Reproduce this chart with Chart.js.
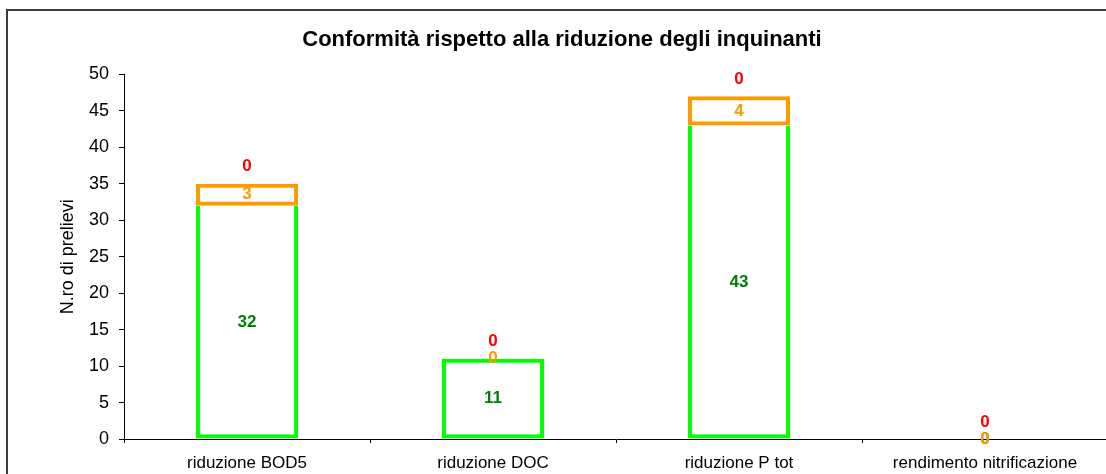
<!DOCTYPE html>
<html>
<head>
<meta charset="utf-8">
<script src="https://cdn.jsdelivr.net/npm/chart.js@4.4.0/dist/chart.umd.min.js"></script>
<style>
  html, body { margin: 0; padding: 0; background: #fff; overflow: hidden; }
  #wrap { width: 1106px; height: 474px; overflow: hidden; }
  canvas { display: block; }
</style>
</head>
<body>
<div id="wrap"><canvas id="chart" width="1124" height="474"></canvas></div>
<script>
// Data
const categories = ['riduzione BOD5', 'riduzione DOC', 'riduzione P tot', 'rendimento nitrificazione'];
const conformi = [32, 11, 43, 0];     // green
const parziali = [3, 0, 4, 0];        // orange
const nonConformi = [0, 0, 0, 0];     // red
const yMax = 50;
const yStep = 5;

Chart.defaults.font.family = '"Liberation Sans", Arial, sans-serif';
Chart.defaults.color = '#000';

// outer frame of the chart (only top/left edges are visible in the picture)
const frame = {
    id: 'frame',
    beforeDraw(chart) {
        const ctx = chart.ctx;
        ctx.save();
        ctx.fillStyle = '#fff';
        ctx.fillRect(0, 0, chart.width, chart.height);
        ctx.strokeStyle = '#3c3c3c';
        ctx.lineWidth = 2;
        ctx.beginPath();
        ctx.moveTo(7, chart.height);
        ctx.lineTo(7, 10);
        ctx.lineTo(chart.width, 10);
        ctx.stroke();
        ctx.restore();
    }
};

// value labels on every segment
const valueLabels = {
    id: 'valueLabels',
    afterDatasetsDraw(chart) {
        const ctx = chart.ctx;
        ctx.save();
        ctx.font = 'bold 17px "Liberation Sans", Arial, sans-serif';
        ctx.textAlign = 'center';
        ctx.textBaseline = 'middle';
        chart.data.datasets.forEach((ds, i) => {
            const meta = chart.getDatasetMeta(i);
            meta.data.forEach((bar, j) => {
                let y = (bar.y + bar.base) / 2;
                if (ds.labelAbove) y = bar.y - 17;
                ctx.fillStyle = ds.labelColor;
                ctx.fillText(String(ds.data[j]), bar.x, y);
            });
        });
        ctx.restore();
    }
};

const ctx = document.getElementById('chart').getContext('2d');
new Chart(ctx, {
    type: 'bar',
    data: {
        labels: categories,
        datasets: [
            {
                label: 'conformi',
                data: conformi,
                backgroundColor: 'rgba(255,255,255,0)',
                borderColor: '#00ff00',
                borderWidth: 4,
                borderSkipped: c => parziali[c.dataIndex] > 0 ? 'end' : false,
                labelColor: '#008000'
            },
            {
                label: 'parziali',
                data: parziali,
                backgroundColor: 'rgba(255,255,255,0)',
                borderColor: '#ff9900',
                borderWidth: 4,
                borderSkipped: false,
                labelColor: '#ff9900'
            },
            {
                label: 'non conformi',
                data: nonConformi,
                backgroundColor: 'rgba(255,255,255,0)',
                borderColor: '#ff0000',
                borderWidth: 0,
                labelColor: '#ff0000',
                labelAbove: true
            }
        ]
    },
    options: {
        responsive: false,
        animation: false,
        devicePixelRatio: 1,
        categoryPercentage: 1,
        barPercentage: 0.415,
        layout: { padding: { left: 16, right: 16 } },
        plugins: {
            legend: { display: false },
            tooltip: { enabled: false },
            title: {
                display: true,
                text: 'Conformità rispetto alla riduzione degli inquinanti',
                color: '#000',
                font: { size: 22, weight: 'bold' },
                padding: { top: 27, bottom: 21 }
            }
        },
        scales: {
            x: {
                stacked: true,
                grid: { drawOnChartArea: false, tickLength: 4, color: '#000' },
                border: { color: '#000', width: 1 },
                ticks: { color: '#000', font: { size: 17 }, padding: 10, maxRotation: 0, autoSkip: false },
                afterFit(scale) { scale.height = 35; }
            },
            y: {
                stacked: true,
                min: 0,
                max: yMax,
                ticks: { stepSize: yStep, color: '#000', font: { size: 18 }, padding: 10 },
                grid: { drawOnChartArea: false, tickLength: 5, color: '#000' },
                border: { color: '#000', width: 1 },
                title: {
                    display: true,
                    text: 'N.ro di prelievi',
                    color: '#000',
                    font: { size: 18 },
                    padding: { top: 41, bottom: 0 }
                },
                afterFit(scale) { scale.width = 108; }
            }
        }
    },
    plugins: [frame, valueLabels]
});
</script>
</body>
</html>
